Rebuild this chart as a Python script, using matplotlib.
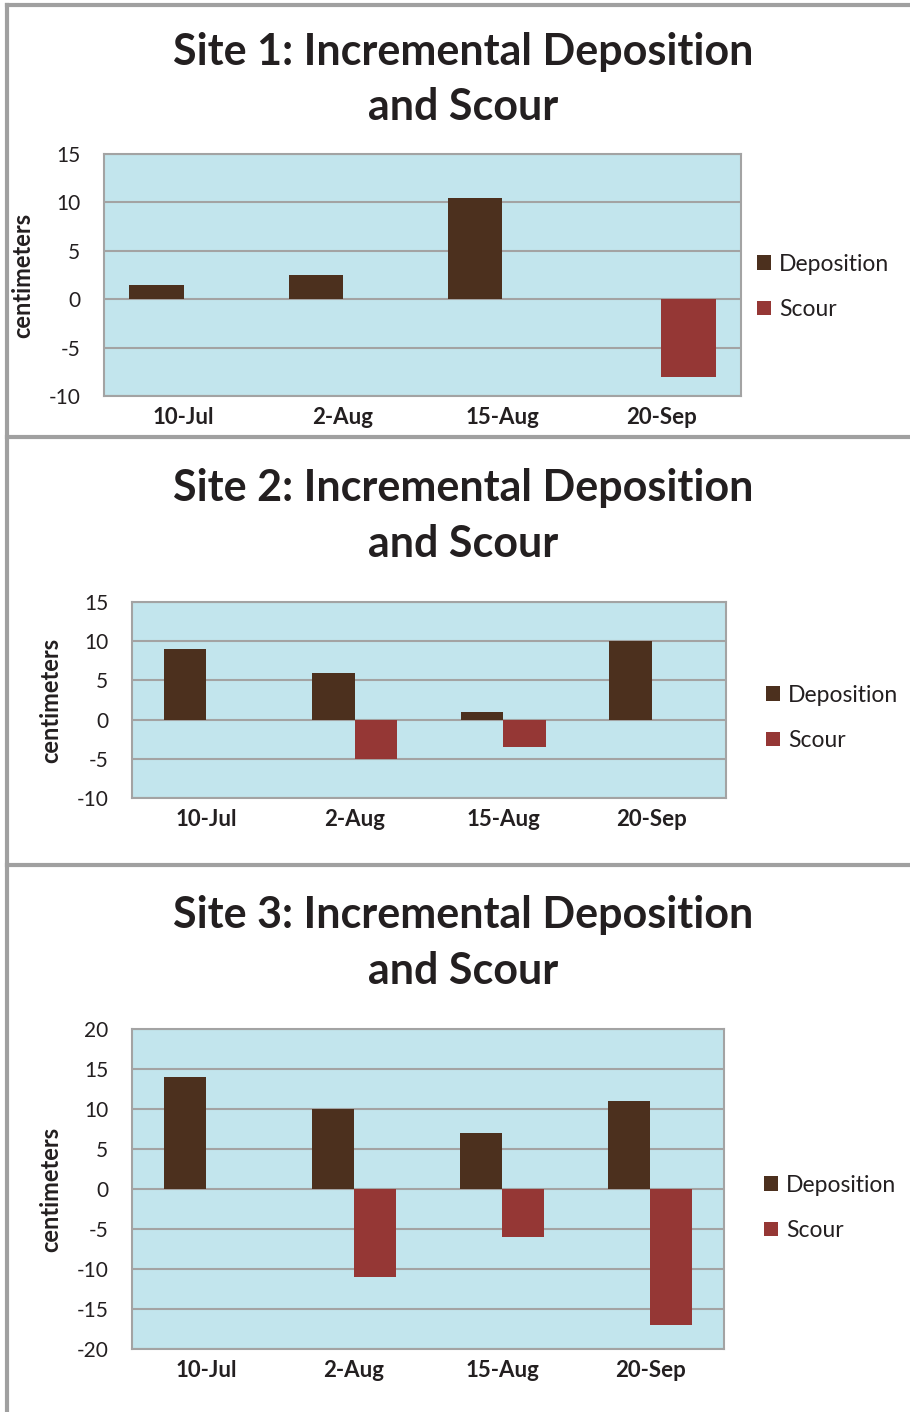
import matplotlib
matplotlib.use("Agg")
import matplotlib.pyplot as plt
from matplotlib.patches import Patch
from matplotlib.lines import Line2D

# ---- data ----
dates = ["10-Jul", "2-Aug", "15-Aug", "20-Sep"]

site1_deposition = [1.5, 2.5, 10.5, 0]
site1_scour = [0, 0, 0, -8]

site2_deposition = [9, 6, 1, 10]
site2_scour = [0, -5, -3.5, 0]

site3_deposition = [14, 10, 7, 11]
site3_scour = [0, -11, -6, -17]

titles = ["Site 1: Incremental Deposition", "Site 2: Incremental Deposition",
          "Site 3: Incremental Deposition"]
title_line2 = "and Scour"
y_label = "centimeters"
series_names = ["Deposition", "Scour"]

# ---- styling ----
W, H = 910, 1412
DPI = 100
FONT = "Lato"
TEXT = "#231F20"
PLOT_BG = "#C2E5ED"
GRID = "#A3A3A3"
DEP_COLOR = "#4C301E"
SCOUR_COLOR = "#953735"
FRAME = "#A0A0A0"

plt.rcParams["font.family"] = [FONT, "DejaVu Sans"]
plt.rcParams["axes.unicode_minus"] = False

fig = plt.figure(figsize=(W / DPI, H / DPI), dpi=DPI)


def px_axes(left, top, right, bottom):
    return fig.add_axes([left / W, 1 - bottom / H, (right - left) / W, (bottom - top) / H])


panels = [
    dict(dep=site1_deposition, sc=site1_scour, title=titles[0],
         box=(104, 154, 741, 396), ylim=(-10, 15), step=5, width=0.34,
         title_y=(52, 107), ylabel_x=34, leg=(757, 287)),
    dict(dep=site2_deposition, sc=site2_scour, title=titles[1],
         box=(132, 602, 726, 798), ylim=(-10, 15), step=5, width=0.286,
         title_y=(488, 544), ylabel_x=62, leg=(766, 718)),
    dict(dep=site3_deposition, sc=site3_scour, title=titles[2],
         box=(132, 1029, 724, 1349), ylim=(-20, 20), step=5, width=0.286,
         title_y=(915, 971), ylabel_x=62, leg=(764, 1208)),
]

for p in panels:
    l, t, r, b = p["box"]
    ax = px_axes(l, t, r, b)
    ax.set_facecolor(PLOT_BG)
    x = list(range(len(dates)))
    w = p["width"]
    ax.bar([i - w / 2 for i in x], p["dep"], width=w, color=DEP_COLOR, zorder=3)
    ax.bar([i + w / 2 for i in x], p["sc"], width=w, color=SCOUR_COLOR, zorder=3)
    ax.set_xlim(-0.5, len(dates) - 0.5)
    lo, hi = p["ylim"]
    ax.set_ylim(lo, hi)
    ax.set_yticks(list(range(lo, hi + 1, p["step"])))
    ax.yaxis.grid(True, color=GRID, linewidth=1.5, zorder=1)
    ax.set_axisbelow(True)
    ax.set_xticks(x)
    ax.set_xticklabels(dates, fontsize=16, fontweight="bold", color=TEXT)
    ax.tick_params(axis="x", length=0, pad=8)
    ax.tick_params(axis="y", length=0, pad=17, labelsize=15, labelcolor=TEXT)
    for s in ax.spines.values():
        s.set_color(GRID)
        s.set_linewidth(1.5)
    ax.set_ylabel(y_label, fontsize=17, fontweight="bold", color=TEXT)
    ax.yaxis.set_label_coords(p["ylabel_x"] / W, 1 - (t + b) / 2 / H,
                              transform=fig.transFigure)

    cx = 463 / W
    fig.text(cx, 1 - p["title_y"][0] / H, p["title"], ha="center", va="center",
             fontsize=31, fontweight="bold", color=TEXT)
    fig.text(cx, 1 - p["title_y"][1] / H, title_line2, ha="center", va="center",
             fontsize=31, fontweight="bold", color=TEXT)

    handles = [Patch(facecolor=DEP_COLOR), Patch(facecolor=SCOUR_COLOR)]
    lx, ly = p["leg"]
    fig.legend(handles, series_names, loc="center left",
               bbox_to_anchor=(lx / W, 1 - ly / H), frameon=False,
               fontsize=16.5, handlelength=0.6, handleheight=0.6,
               handletextpad=0.35, labelspacing=1.07, borderpad=0,
               borderaxespad=0, labelcolor=TEXT)

# panel frames
frame_kw = dict(color=FRAME, linewidth=3, transform=fig.transFigure)
fig.add_artist(Line2D([7 / W, 7 / W], [0, 1 - 5 / H], **frame_kw))
for yy in (5, 437, 865):
    fig.add_artist(Line2D([7 / W, 1], [1 - yy / H, 1 - yy / H], **frame_kw))

fig.savefig("out.png", dpi=DPI, facecolor="white")
